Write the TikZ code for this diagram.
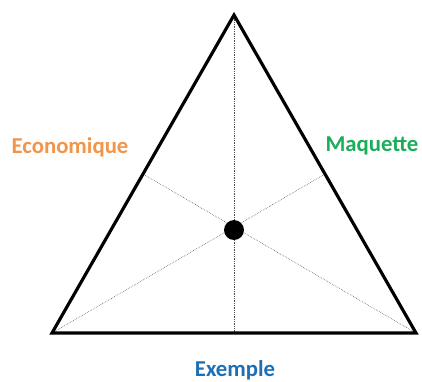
\documentclass[tikz,border=0pt]{standalone}
\usepackage{fontspec}
\setmainfont{Carlito}
\usetikzlibrary{calc}
\definecolor{econ}{HTML}{F0954A}
\definecolor{maq}{HTML}{1AAE5A}
\definecolor{exe}{HTML}{1F6FB5}
\tikzset{
  tri/.style={line width=2.7pt, line join=miter, black},
  median/.style={line width=0.5pt, gray!60!black, densely dotted},
  lbl/.style={font=\bfseries\fontsize{19.4}{21}\selectfont, anchor=base, inner sep=0pt},
  centre/.style={circle, fill=black, minimum size=17pt, inner sep=0pt}
}
\begin{document}
\begin{tikzpicture}[x=0.03cm, y=-0.03cm]
\useasboundingbox (0,0) rectangle (422,381);
\coordinate (A) at (234,15);
\coordinate (B) at (52,333);
\coordinate (C) at (416,333);
\coordinate (mAB) at ($(A)!0.5!(B)$);
\coordinate (mBC) at ($(B)!0.5!(C)$);
\coordinate (mCA) at ($(C)!0.5!(A)$);
\draw[median] (A) -- (mBC);
\draw[median] (B) -- (mCA);
\draw[median] (C) -- (mAB);
\draw[tri] (A) -- (B) -- (C) -- cycle;
\node[centre] (G) at (234,230) {};
\node[lbl, text=econ] (econ) at (70,153) {Economique};
\node[lbl, text=maq] (maq) at (372,151) {Maquette};
\node[lbl, text=exe] (exe) at (235,376) {Exemple};
\end{tikzpicture}
\end{document}
